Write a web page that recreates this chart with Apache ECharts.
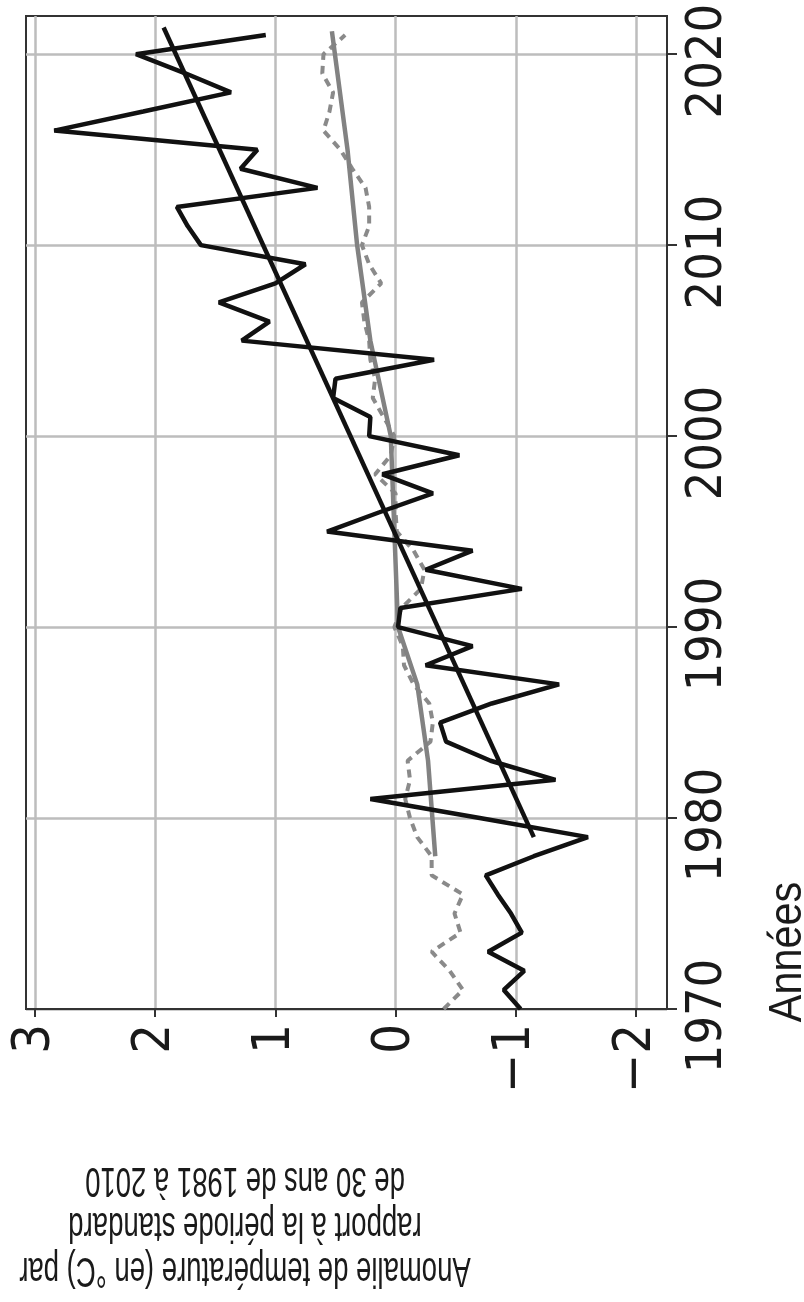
<!DOCTYPE html>
<html>
<head>
<meta charset="utf-8">
<script src="https://cdn.jsdelivr.net/npm/echarts@6/dist/echarts.min.js"></script>
<style>
html,body{margin:0;padding:0;background:#fff;}
#chart{width:804px;height:1302px;}
</style>
</head>
<body>
<div id="chart"></div>
<script>
// Years 1970..2021
const years = [1970,1971,1972,1973,1974,1975,1976,1977,1978,1979,1980,1981,1982,1983,1984,1985,1986,1987,1988,1989,1990,1991,1992,1993,1994,1995,1996,1997,1998,1999,2000,2001,2002,2003,2004,2005,2006,2007,2008,2009,2010,2011,2012,2013,2014,2015,2016,2017,2018,2019,2020,2021];
// Black solid series: local anomaly (°C)
const localAnomaly = [-1.04,-0.90,-1.07,-0.77,-1.05,-0.96,-0.85,-0.75,-1.15,-1.60,-0.70,0.21,-1.33,-0.79,-0.42,-0.37,-0.80,-1.36,-0.25,-0.64,-0.02,-0.04,-1.05,-0.25,-0.64,0.57,0.14,-0.31,0.11,-0.53,0.22,0.21,0.52,0.50,-0.32,1.28,1.05,1.47,1.00,0.75,1.62,1.73,1.82,0.65,1.29,1.15,2.84,2.10,1.37,1.75,2.16,1.08];
// Grey dashed series
const refAnomaly = [-0.40,-0.56,-0.45,-0.30,-0.54,-0.49,-0.56,-0.30,-0.30,-0.18,-0.12,-0.08,-0.12,-0.10,-0.29,-0.31,-0.28,-0.15,-0.07,-0.06,0.01,-0.05,-0.21,-0.24,-0.15,-0.01,0.00,0.00,0.17,0.04,0.01,0.10,0.19,0.17,0.21,0.22,0.26,0.28,0.12,0.22,0.28,0.22,0.22,0.25,0.36,0.46,0.60,0.55,0.52,0.61,0.60,0.42];
// Black trend line
const trendYears = [1979, 2021.4];
const trendValues = [-1.15, 1.93];
// Grey trend line
const greyTrendYears = [1978, 1983, 1987, 1990, 1995, 2000, 2005, 2010, 2015, 2021.2];
const greyTrendValues = [-0.33, -0.27, -0.18, -0.02, 0.01, 0.04, 0.21, 0.32, 0.40, 0.53];
// Tick labels
const anomalyTicks = [-2, -1, 0, 1, 2, 3];
const yearTicks = [1970, 1980, 1990, 2000, 2010, 2020];
const xTitle = 'Années';
const yTitle = 'Anomalie de température (en °C) par\nrapport à la période standard\nde 30 ans de 1981 à 2010';

const pairs = (vals, ys) => vals.map((v, i) => [v, ys[i]]);
const tickFont = "'DejaVu Sans Condensed', 'DejaVu Sans', sans-serif";

const chart = echarts.init(document.getElementById('chart'));
chart.setOption({
  animation: false,
  backgroundColor: '#ffffff',
  grid: {
    left: 26, right: 137, top: 16, bottom: 293,
    show: true, borderColor: '#333', borderWidth: 2,
    outerBoundsMode: 'none', containLabel: false
  },
  xAxis: {
    type: 'value', inverse: true, min: -2.258, max: 3.075, position: 'bottom',
    axisLine: { show: true, onZero: false, lineStyle: { color: '#333', width: 2 } },
    axisTick: { show: true, customValues: anomalyTicks, length: 8, lineStyle: { color: '#333', width: 2 } },
    axisLabel: {
      customValues: anomalyTicks, rotate: 90, margin: 15, fontSize: 52,
      fontFamily: tickFont, color: '#1a1a1a',
      formatter: v => (v < 0 ? '\u2212' + Math.abs(v) : String(v))
    },
    splitLine: { show: true, lineStyle: { color: '#bdbdbd', width: 2.5 } }
  },
  yAxis: {
    type: 'value', min: 1970, max: 2022, position: 'right',
    axisLine: { show: true, onZero: false, lineStyle: { color: '#333', width: 2 } },
    axisTick: { show: true, customValues: yearTicks, length: 10, lineStyle: { color: '#333', width: 2 } },
    axisLabel: {
      customValues: yearTicks, rotate: 90, margin: 16, fontSize: 50,
      fontFamily: tickFont, color: '#1a1a1a', padding: [0, 14, 0, 0],
      formatter: v => String(v)
    },
    splitLine: { show: true, lineStyle: { color: '#bdbdbd', width: 2.5 } }
  },
  series: [
    {
      name: 'ref', type: 'line', data: pairs(refAnomaly, years), showSymbol: false,
      lineStyle: { color: '#8a8a8a', width: 4, type: [8, 6] }, z: 2
    },
    {
      name: 'refTrend', type: 'line', data: pairs(greyTrendValues, greyTrendYears), showSymbol: false,
      lineStyle: { color: '#828282', width: 4.5 }, z: 3
    },
    {
      name: 'local', type: 'line', data: pairs(localAnomaly, years), showSymbol: false,
      lineStyle: { color: '#111', width: 4.5 }, z: 4
    },
    {
      name: 'localTrend', type: 'line', data: pairs(trendValues, trendYears), showSymbol: false,
      lineStyle: { color: '#111', width: 4.5 }, z: 5
    }
  ],
  graphic: [
    {
      type: 'text', x: 788, y: 952, rotation: Math.PI / 2, scaleX: 0.88,
      style: { text: xTitle, fontSize: 47, fontFamily: "'Liberation Sans', Arial, sans-serif", fill: '#1a1a1a', align: 'center', verticalAlign: 'middle' }
    },
    {
      type: 'text', x: 245, y: 1225, rotation: Math.PI, scaleX: 0.64,
      style: { text: yTitle, fontSize: 43, lineHeight: 45, fontFamily: "'Liberation Sans', Arial, sans-serif", fill: '#1a1a1a', align: 'center', verticalAlign: 'middle' }
    }
  ]
});
</script>
</body>
</html>
